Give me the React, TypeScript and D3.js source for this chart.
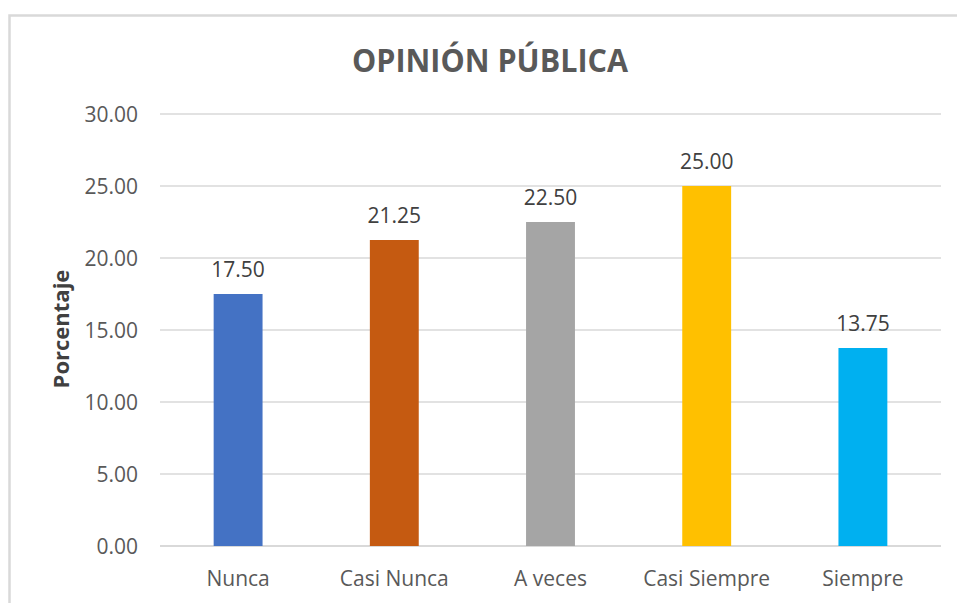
import React from "react";
import * as d3 from "d3";

const categories = ["Nunca", "Casi Nunca", "A veces", "Casi Siempre", "Siempre"];
const values = [17.5, 21.25, 22.5, 25.0, 13.75];
const colors = ["#4472C4", "#C55A11", "#A5A5A5", "#FFC000", "#00B0F0"];
const yTicks = [0, 5, 10, 15, 20, 25, 30];
const title = "OPINIÓN PÚBLICA";
const yTitle = "Porcentaje";

const W = 957;
const H = 603;
const left = 160;
const right = 941;
const top = 114;
const bottom = 546;

export default function App() {
  const x = d3.scaleBand<string>().domain(categories).range([left, right]).paddingInner(0.687).paddingOuter(0.3435);
  const y = d3.scaleLinear().domain([0, 30]).range([bottom, top]);
  const font = "'Open Sans', sans-serif";
  return (
    <svg width={W} height={H} style={{ position: "absolute", left: 0, top: 0, background: "#fff" }}>
      <rect x={0} y={0} width={W} height={H} fill="#fff" />
      <path d={`M9.5,${H} V15.5 H${W}`} fill="none" stroke="#d9d9d9" strokeWidth={2.5} />
      <text x={490} y={72} textAnchor="middle" fontFamily={font} fontWeight={700} fontSize={32} fill="#595959" textLength={276} lengthAdjust="spacingAndGlyphs">{title}</text>
      {yTicks.map((t) => (
        <g key={t}>
          <line x1={left} x2={right} y1={y(t)} y2={y(t)} stroke="#d9d9d9" strokeWidth={t === 0 ? 2 : 1.5} />
          <text x={138} y={y(t)} dy="0.36em" textAnchor="end" fontFamily={font} fontSize={21} fill="#595959">{t.toFixed(2)}</text>
        </g>
      ))}
      {categories.map((c, i) => (
        <g key={c}>
          <rect x={x(c)} y={y(values[i])} width={x.bandwidth()} height={y(0) - y(values[i])} fill={colors[i]} />
          <text x={(x(c) as number) + x.bandwidth() / 2} y={y(values[i]) - 17} textAnchor="middle" fontFamily={font} fontSize={21} fill="#404040">{values[i].toFixed(2)}</text>
          <text x={(x(c) as number) + x.bandwidth() / 2} y={578} dy="0.36em" textAnchor="middle" fontFamily={font} fontSize={21} fill="#595959">{c}</text>
        </g>
      ))}
      <text transform={`translate(69,329) rotate(-90)`} textAnchor="middle" fontFamily={font} fontWeight={700} fontSize={22} fill="#404040">{yTitle}</text>
    </svg>
  );
}
